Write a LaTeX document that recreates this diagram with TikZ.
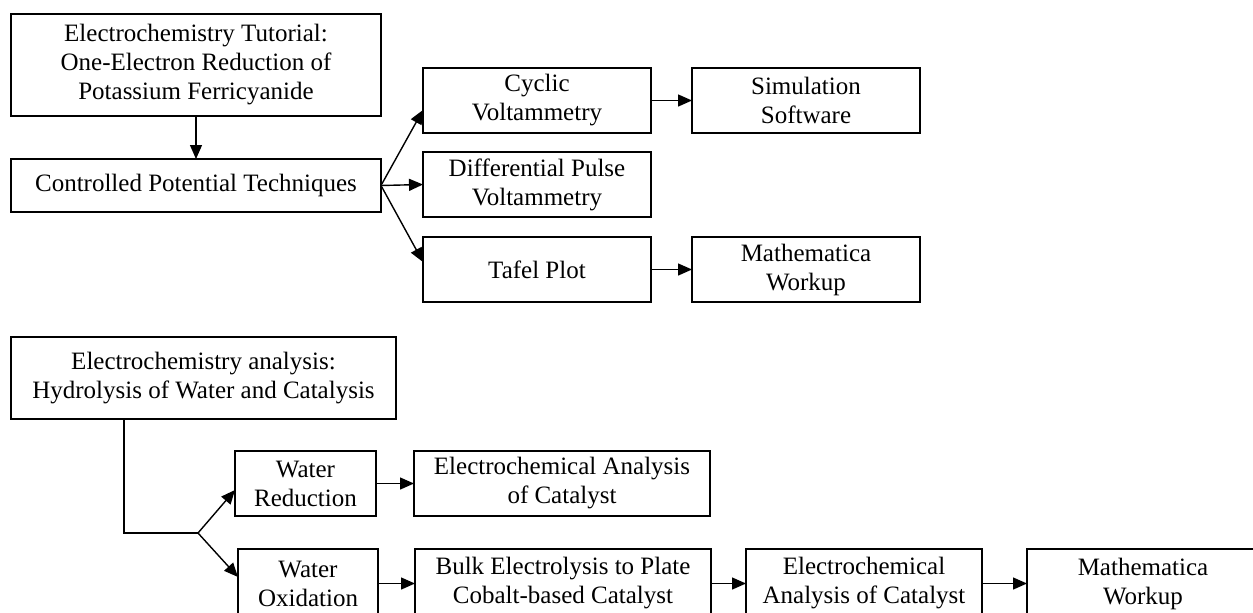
\documentclass[tikz,border=0pt]{standalone}
\usepackage{fontspec}
\setmainfont{Liberation Serif}
\usetikzlibrary{arrows.meta,positioning,calc}

\begin{document}
\begin{tikzpicture}[x=1pt,y=-1pt,node distance=42pt]
\tikzstyle{box} = [rectangle, draw, line width=2.6pt, outer sep=0pt, align=center, inner sep=2pt, font=\fontsize{25}{29}\selectfont, minimum height=65pt]
\tikzstyle{line} = [draw, line width=1.4pt]
\tikzstyle{arrow} = [line, -{Triangle[length=14pt,width=12pt]}]

\useasboundingbox (0,0) rectangle (1253,613);

% Tutorial: one-electron reduction
\node [box, minimum width=370pt, minimum height=102pt] (tutorial) at (196,65) {Electrochemistry Tutorial:\\One-Electron Reduction of\\Potassium Ferricyanide};
\node [box, minimum width=370pt, minimum height=53pt, below=43pt of tutorial] (controlled) {Controlled Potential Techniques};
\node [box, minimum width=228pt, right=42pt of controlled, yshift=1pt] (diffPulse) {Differential Pulse\\Voltammetry};
\node [box, minimum width=228pt, above=19pt of diffPulse] (cyclic) {Cyclic\\Voltammetry};
\node [box, minimum width=228pt, below=20pt of diffPulse] (tafel) {Tafel Plot};
\node [box, minimum width=228pt, right=41pt of cyclic] (simulation) {Simulation\\Software};
\node [box, minimum width=228pt, right=41pt of tafel] (mathTafel) {Mathematica\\Workup};

% Analysis: hydrolysis of water
\node [box, minimum width=385pt, minimum height=82pt] (hydrolysis) at (203.5,378) {Electrochemistry analysis:\\Hydrolysis of Water and Catalysis};
\node [box, minimum width=141pt] (waterRed) at (305.5,483.5) {Water\\Reduction};
\node [box, minimum width=140pt, minimum height=69pt, below=33pt of waterRed, xshift=2.5pt] (waterOx) {Water\\Oxidation};
\node [box, minimum width=296pt, right=38pt of waterRed] (analysisRed) {Electrochemical Analysis\\of Catalyst};
\node [box, minimum width=296pt, minimum height=69pt, right=37pt of waterOx] (bulk) {Bulk Electrolysis to Plate\\Cobalt-based Catalyst};
\node [box, minimum width=236pt, minimum height=69pt, right=35pt of bulk] (analysisOx) {Electrochemical\\Analysis of Catalyst};
\node [box, minimum width=232pt, minimum height=69pt, right=45pt of analysisOx] (mathOx) {Mathematica\\Workup};

\coordinate (split) at (198,533);

\draw [arrow] (tutorial) -- (controlled);
\draw [arrow] (controlled.east) -- ([yshift=-9.5pt]cyclic.west);
\draw [arrow] (controlled.east) -- (diffPulse.west);
\draw [arrow] (controlled.east) -- ([yshift=7.5pt]tafel.west);
\draw [arrow] (cyclic) -- (simulation);
\draw [arrow] (tafel) -- (mathTafel);

\draw [line] ([xshift=-79.5pt]hydrolysis.south) |- (split);
\draw [arrow] (split) -- ([yshift=-6.5pt]waterRed.west);
\draw [arrow] (split) -- ([yshift=6.5pt]waterOx.west);
\draw [arrow] (waterRed) -- (analysisRed);
\draw [arrow] (waterOx) -- (bulk);
\draw [arrow] (bulk) -- (analysisOx);
\draw [arrow] (analysisOx) -- (mathOx);

\end{tikzpicture}
\end{document}
